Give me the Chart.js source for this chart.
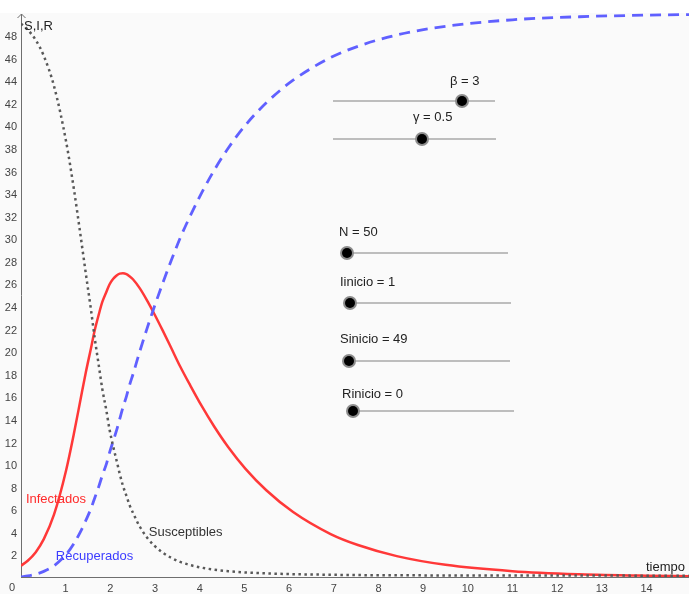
<!DOCTYPE html>
<html>
<head>
<meta charset="utf-8">
<script src="https://cdn.jsdelivr.net/npm/chart.js@4/dist/chart.umd.min.js"></script>
<style>
  html, body { margin: 0; padding: 0; background: #ffffff; }
  #wrap { width: 689px; height: 594px; }
</style>
</head>
<body>
<div id="wrap"><canvas id="sir" width="689" height="594"></canvas></div>
<script>
// Modelo SIR: beta = 3, gamma = 0.5, N = 50, I(0) = 1, S(0) = 49, R(0) = 0
const tiempo       = [0, 0.15, 0.33, 0.51, 0.74, 1.01, 1.19, 1.33, 1.45, 1.56, 1.65, 1.74, 1.82, 1.91, 1.98, 2.06, 2.14, 2.21, 2.28, 2.36, 2.43, 2.51, 2.66, 2.82, 2.99, 3.17, 3.36, 3.56, 3.79, 4.04, 4.32, 4.64, 5.02, 5.49, 6.09, 6.93, 7.54, 8.41, 9.5, 11, 12.5, 14, 15];
const susceptibles = [49, 48.47, 47.55, 46.15, 43.46, 38.55, 34.19, 30.32, 26.89, 23.85, 21.15, 18.76, 16.64, 14.76, 13.09, 11.61, 10.30, 9.13, 8.10, 7.18, 6.37, 5.65, 4.45, 3.50, 2.75, 2.16, 1.70, 1.34, 1.05, 0.83, 0.65, 0.51, 0.40, 0.32, 0.25, 0.20, 0.17, 0.15, 0.14, 0.13, 0.13, 0.12, 0.12];
const infectados   = [1, 1.44, 2.20, 3.35, 5.54, 9.46, 12.81, 15.68, 18.11, 20.15, 21.85, 23.24, 24.36, 25.24, 25.91, 26.39, 26.70, 26.87, 26.90, 26.82, 26.63, 26.35, 25.56, 24.50, 23.25, 21.84, 20.30, 18.66, 16.95, 15.17, 13.35, 11.49, 9.60, 7.68, 5.75, 3.80, 2.83, 1.85, 1.08, 0.52, 0.25, 0.12, 0.07];
const recuperados  = [0, 0.09, 0.25, 0.5, 1, 2, 3, 4, 5, 6, 7, 8, 9, 10, 11, 12, 13, 14, 15, 16, 17, 18, 20, 22, 24, 26, 28, 30, 32, 34, 36, 38, 40, 42, 44, 46, 47, 48, 48.77, 49.35, 49.62, 49.76, 49.81];

const xTicks = [1, 2, 3, 4, 5, 6, 7, 8, 9, 10, 11, 12, 13, 14];
const yTicks = [2, 4, 6, 8, 10, 12, 14, 16, 18, 20, 22, 24, 26, 28, 30, 32, 34, 36, 38, 40, 42, 44, 46, 48];

// Deslizadores: etiqueta, posición de la etiqueta, recta y punto
const deslizadores = [
  { texto: 'β = 3',        tx: 450, ty: 81,  x1: 333, x2: 495, y: 101, px: 462 },
  { texto: 'γ = 0.5',      tx: 413, ty: 117, x1: 333, x2: 496, y: 139, px: 422 },
  { texto: 'N = 50',       tx: 339, ty: 232, x1: 347, x2: 508, y: 253, px: 347 },
  { texto: 'Iinicio = 1',  tx: 340, ty: 282, x1: 350, x2: 511, y: 303, px: 350 },
  { texto: 'Sinicio = 49', tx: 340, ty: 339, x1: 349, x2: 510, y: 361, px: 349 },
  { texto: 'Rinicio = 0',  tx: 342, ty: 394, x1: 353, x2: 514, y: 411, px: 353 }
];

const FONT = '"Liberation Sans", Arial, sans-serif';
const pts = (ys) => tiempo.map((t, i) => ({ x: t, y: ys[i] }));

const fondo = {
  id: 'fondo',
  beforeDraw(chart) {
    const c = chart.ctx;
    c.save();
    c.fillStyle = '#ffffff';
    c.fillRect(0, 0, chart.width, chart.height);
    c.fillStyle = '#fafafa';
    c.fillRect(0, 13, chart.width, chart.height - 13);
    c.restore();
  }
};

const ejes = {
  id: 'ejes',
  beforeDatasetsDraw(chart) {
    const c = chart.ctx, a = chart.chartArea;
    c.save();
    c.strokeStyle = '#6e6e6e';
    c.lineWidth = 1;
    c.beginPath();
    c.moveTo(a.left + 0.5, a.bottom);
    c.lineTo(a.left + 0.5, a.top + 1);
    c.moveTo(a.left - 3.5, a.top + 5);
    c.lineTo(a.left + 0.5, a.top + 1);
    c.lineTo(a.left + 4.5, a.top + 5);
    c.moveTo(a.left, a.bottom + 0.5);
    c.lineTo(a.right, a.bottom + 0.5);
    c.stroke();
    c.restore();
  }
};

const rotulos = {
  id: 'rotulos',
  afterDraw(chart) {
    const c = chart.ctx, a = chart.chartArea;
    const sx = chart.scales.x, sy = chart.scales.y;
    c.save();
    c.font = '13px ' + FONT;
    c.textBaseline = 'middle';

    // rótulos de los ejes
    c.fillStyle = '#222222';
    c.textAlign = 'left';
    c.fillText('S,I,R', a.left + 3, 26);
    c.textAlign = 'right';
    c.fillText('tiempo', sx.getPixelForValue(14.86), sy.getPixelForValue(0.88));
    c.font = '11px ' + FONT;
    c.fillStyle = '#444444';
    c.textAlign = 'center';
    c.fillText('0', a.left - 9, a.bottom + 11);

    // nombres de las curvas
    c.font = '13px ' + FONT;
    c.textAlign = 'left';
    c.fillStyle = '#ff2a2a';
    c.fillText('Infectados', sx.getPixelForValue(0.11), sy.getPixelForValue(6.9));
    c.fillStyle = '#3c3cff';
    c.fillText('Recuperados', sx.getPixelForValue(0.78), sy.getPixelForValue(1.86));
    c.fillStyle = '#333333';
    c.fillText('Susceptibles', sx.getPixelForValue(2.86), sy.getPixelForValue(3.98));

    // deslizadores
    deslizadores.forEach(d => {
      c.strokeStyle = '#a8a8a8';
      c.lineWidth = 1.5;
      c.beginPath();
      c.moveTo(d.x1, d.y);
      c.lineTo(d.x2, d.y);
      c.stroke();
      c.fillStyle = '#8c8c8c';
      c.beginPath();
      c.arc(d.px, d.y, 7, 0, Math.PI * 2);
      c.fill();
      c.fillStyle = '#000000';
      c.beginPath();
      c.arc(d.px, d.y, 5, 0, Math.PI * 2);
      c.fill();
      c.fillStyle = '#222222';
      c.font = '13px ' + FONT;
      c.textAlign = 'left';
      c.fillText(d.texto, d.tx, d.ty);
    });
    c.restore();
  }
};

new Chart(document.getElementById('sir'), {
  type: 'line',
  data: {
    datasets: [
      {
        label: 'Infectados',
        data: pts(infectados),
        borderColor: 'rgb(255, 56, 56)',
        borderWidth: 2.5,
        pointRadius: 0,
        cubicInterpolationMode: 'monotone',
        order: 3
      },
      {
        label: 'Recuperados',
        data: pts(recuperados),
        borderColor: 'rgb(96, 96, 255)',
        borderWidth: 2.8,
        borderDash: [11, 7],
        pointRadius: 0,
        cubicInterpolationMode: 'monotone',
        order: 2
      },
      {
        label: 'Susceptibles',
        data: pts(susceptibles),
        borderColor: 'rgb(88, 88, 88)',
        borderWidth: 2.5,
        borderDash: [2.5, 3.5],
        pointRadius: 0,
        cubicInterpolationMode: 'monotone',
        order: 1
      }
    ]
  },
  options: {
    responsive: false,
    animation: false,
    devicePixelRatio: 1,
    layout: { padding: { top: 13, left: 0, right: 0, bottom: 0 } },
    plugins: { legend: { display: false }, tooltip: { enabled: false } },
    scales: {
      x: {
        type: 'linear',
        min: 0,
        max: 14.95,
        afterFit: s => { s.height = 17; },
        afterBuildTicks: s => { s.ticks = xTicks.map(v => ({ value: v })); },
        ticks: { font: { size: 11, family: FONT }, color: '#444444', padding: 5, maxRotation: 0, autoSkip: false },
        grid: { display: false, drawTicks: false },
        border: { display: false }
      },
      y: {
        type: 'linear',
        min: 0,
        max: 49.95,
        afterFit: s => { s.width = 21; },
        afterBuildTicks: s => { s.ticks = yTicks.map(v => ({ value: v })); },
        ticks: { font: { size: 11, family: FONT }, color: '#444444', padding: 4, labelOffset: 2, autoSkip: false },
        grid: { display: false, drawTicks: false },
        border: { display: false }
      }
    }
  },
  plugins: [fondo, ejes, rotulos]
});
</script>
</body>
</html>
